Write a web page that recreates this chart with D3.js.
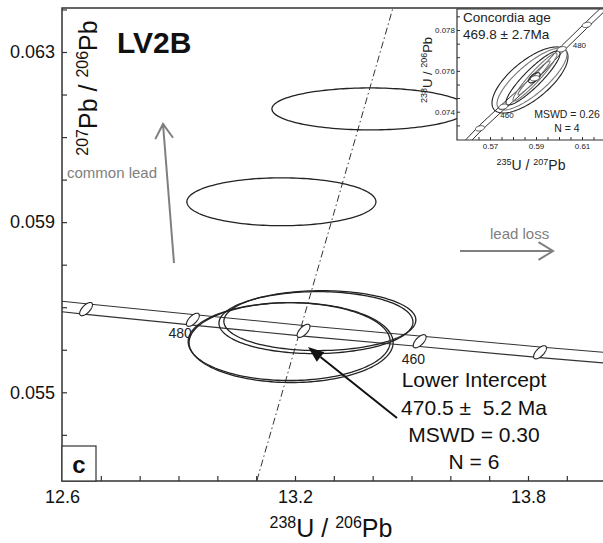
<!DOCTYPE html>
<html><head><meta charset="utf-8">
<script src="https://cdn.jsdelivr.net/npm/d3@7"></script>
<style>body{margin:0;background:#fff}svg{display:block}text{font-family:"Liberation Sans",Arial,sans-serif}</style>
</head><body><svg id="c" width="603" height="543"></svg>
<script>
// ---------- main plot data (Tera-Wasserburg) ----------
const xTickVals = [12.6,12.7,12.8,12.9,13.0,13.1,13.2,13.3,13.4,13.5,13.6,13.7,13.8,13.9];
const xTickLabels = [12.6,13.2,13.8];
const yTickVals = [0.054,0.055,0.056,0.057,0.058,0.059,0.060,0.061,0.062,0.063,0.064];
const yTickLabels = [0.055,0.059,0.063];
// analyses: 238U/206Pb, 207Pb/206Pb, 2-sigma half widths, correlation
const ellX   = [13.393, 13.165, 13.254, 13.264, 13.185, 13.190];
const ellY   = [0.061662, 0.059479, 0.056638, 0.056685, 0.056192, 0.056169];
const ellSX  = [0.2524, 0.2434, 0.2498, 0.2472, 0.2601, 0.2627];
const ellSY  = [0.000493, 0.000563, 0.000728, 0.000704, 0.000915, 0.000939];
const ellRho = [0, 0, 0.02, 0.02, 0, 0];
// concordia (Ma) with marker positions
const concAge = [500, 490, 480, 470, 460, 450, 440];
const concX   = [12.399, 12.662, 12.937, 13.222, 13.521, 13.831, 14.157];
const concY   = [0.057215, 0.056956, 0.056705, 0.056445, 0.056200, 0.055941, 0.055690];
const concBand = 0.000125;
const concLabels = [480, 460];
// discordia (dash-dot) line end points
const discX = [13.102, 13.452];
const discY = [0.05293, 0.06403];

// ---------- inset data (Wetherill) ----------
const inXTickVals = [0.565,0.57,0.575,0.58,0.585,0.59,0.595,0.60,0.605,0.61,0.615];
const inXTickLabels = [0.57,0.59,0.61];
const inYTickVals = [0.07333,0.074,0.07467,0.07533,0.076,0.07667,0.07733,0.078,0.07867];
const inYTickLabels = [0.074,0.076,0.078];
const inConcX = [0.5565, 0.56565, 0.57578, 0.58957, 0.60117, 0.61204, 0.625];
const inConcY = [0.072108, 0.073186, 0.074245, 0.075637, 0.077059, 0.07825, 0.079647];
const inMarkX = [0.56565, 0.57578, 0.58957, 0.60117, 0.61204];
const inMarkY = [0.073186, 0.074245, 0.075637, 0.077059, 0.07825];
const inBand = 0.00017;
const inEllX   = [0.58739, 0.58826, 0.58870, 0.58957, 0.58913, 0.58930];
const inEllY   = [0.075554, 0.075603, 0.075652, 0.075701, 0.075652, 0.075660];
const inEllSX  = [0.01652, 0.01522, 0.01174, 0.00957, 0.00696, 0.0025];
const inEllSY  = [0.001618, 0.00152, 0.001324, 0.001176, 0.000833, 0.00025];
const inEllRho = [0.70, 0.80, 0.90, 0.95, 0.97, 0.6];
const inEllGrey = [false, true, false, true, true, false];

const svg = d3.select("#c");
const L = 62, T = 8, B = 481, R = 603;
const x = d3.scaleLinear().domain([12.6, 13.8]).range([62, 528]);
const y = d3.scaleLinear().domain([0.055, 0.063]).range([392.3, 52]);

function ellPath(xs, ys, cx, cy, sx, sy, rho) {
  const n = 160, pts = [];
  for (let i = 0; i <= n; i++) {
    const t = 2 * Math.PI * i / n;
    pts.push([xs(cx + sx * Math.cos(t)), ys(cy + sy * (rho * Math.cos(t) + Math.sqrt(1 - rho * rho) * Math.sin(t)))]);
  }
  return d3.line()(pts);
}

svg.append("defs").append("clipPath").attr("id","mclip").append("rect")
  .attr("x", L).attr("y", T).attr("width", R - L + 10).attr("height", B - T);
const g = svg.append("g").attr("clip-path","url(#mclip)");

// concordia band
const line = d3.line();
[-1, 1].forEach(s => {
  g.append("path").attr("d", line(concX.map((v,i)=>[x(v), y(concY[i] + s*concBand)])))
   .attr("fill","none").attr("stroke","#333").attr("stroke-width",1.1);
});
// discordia
g.append("line").attr("x1", x(discX[0])).attr("y1", y(discY[0])).attr("x2", x(discX[1])).attr("y2", y(discY[1]))
  .attr("stroke","#333").attr("stroke-width",1).attr("stroke-dasharray","7,3,1.5,3");
// data ellipses
ellX.forEach((v,i) => {
  g.append("path").attr("d", ellPath(x, y, v, ellY[i], ellSX[i], ellSY[i], ellRho[i]))
   .attr("fill","none").attr("stroke","#222").attr("stroke-width",1.3);
});
// concordia markers
concX.forEach((v,i) => {
  g.append("path").attr("d", ellPath(x, y, v, concY[i], 0.0165, 0.000155, 0.65))
   .attr("fill","#fff").attr("stroke","#222").attr("stroke-width",1.1);
});
concAge.forEach((a,i) => {
  if (!concLabels.includes(a)) return;
  const px = x(concX[i]), py = y(concY[i]);
  g.append("text").attr("x", a === 480 ? px - 1 : px - 18).attr("y", a === 480 ? py + 18 : py + 23)
   .attr("text-anchor", a === 480 ? "end" : "start").attr("font-size", 14).attr("fill","#222").text(a);
});

// axes
const xAxis = d3.axisBottom(x).tickValues(xTickVals).tickSize(-5).tickSizeOuter(0).tickPadding(9)
  .tickFormat(d => xTickLabels.includes(d) ? d3.format(".1f")(d) : "");
const gx = svg.append("g").attr("transform", `translate(0,${B})`).call(xAxis);
gx.select(".domain").remove();
gx.selectAll("line").attr("stroke","#333").attr("stroke-width",1.2);
gx.selectAll("text").attr("font-size",18).attr("fill","#111").style("font-family","Liberation Sans, Arial, sans-serif");
const yAxis = d3.axisLeft(y).tickValues(yTickVals.filter(v => y(v) > T && y(v) < B)).tickSize(-5).tickSizeOuter(0).tickPadding(7)
  .tickFormat(d => yTickLabels.includes(d) ? d3.format(".3f")(d) : "");
const gy = svg.append("g").attr("transform", `translate(${L},0)`).call(yAxis);
gy.select(".domain").remove();
gy.selectAll("line").attr("stroke","#333").attr("stroke-width",1.2);
gy.selectAll("text").attr("font-size",18).attr("fill","#111").style("font-family","Liberation Sans, Arial, sans-serif");

// frame
svg.append("path").attr("d", `M${R+5},${T}H${L}V${B}H${R+5}`).attr("fill","none").attr("stroke","#333").attr("stroke-width",1.5);

// axis titles
const xt = svg.append("text").attr("x", 331).attr("y", 537).attr("text-anchor","middle").attr("font-size",25).attr("fill","#111");
xt.append("tspan").attr("font-size",16).attr("dy",-9).text("238");
xt.append("tspan").attr("dy",9).text("U / ");
xt.append("tspan").attr("font-size",16).attr("dy",-9).text("206");
xt.append("tspan").attr("dy",9).text("Pb");
const yt = svg.append("text").attr("transform","translate(97,88) rotate(-90)").attr("text-anchor","middle").attr("font-size",25).attr("fill","#111");
yt.append("tspan").attr("font-size",16).attr("dy",-9).text("207");
yt.append("tspan").attr("dy",9).text("Pb / ");
yt.append("tspan").attr("font-size",16).attr("dy",-9).text("206");
yt.append("tspan").attr("dy",9).text("Pb");

svg.append("text").attr("x",117).attr("y",53).attr("font-size",30).attr("font-weight","bold").attr("fill","#111").text("LV2B");
svg.append("rect").attr("x",L).attr("y",446).attr("width",34).attr("height",B-446).attr("fill","#fff").attr("stroke","#333").attr("stroke-width",1.2);
svg.append("text").attr("x",79).attr("y",473).attr("text-anchor","middle").attr("font-size",24).attr("font-weight","bold").attr("fill","#111").text("c");

// grey arrows
function openArrow(x1,y1,x2,y2,col){
  const a = Math.atan2(y2-y1, x2-x1), len = 17, sp = 0.55;
  const p = `M${x1},${y1}L${x2},${y2}M${x2-len*Math.cos(a-sp)},${y2-len*Math.sin(a-sp)}L${x2},${y2}L${x2-len*Math.cos(a+sp)},${y2-len*Math.sin(a+sp)}`;
  svg.append("path").attr("d",p).attr("fill","none").attr("stroke",col).attr("stroke-width",2);
}
openArrow(174,263,163,124,"#7f7f7f");
openArrow(460,251,553,251,"#7f7f7f");
svg.append("text").attr("x",67).attr("y",178).attr("font-size",15).attr("fill","#808080").text("common lead");
svg.append("text").attr("x",490).attr("y",239).attr("font-size",15).attr("fill","#808080").text("lead loss");

// black arrow to lower intercept
(function(){
  const x1=397,y1=418,x2=308,y2=347;
  const a = Math.atan2(y2-y1,x2-x1), len=16, w=6;
  const bx = x2 - len*Math.cos(a), by = y2 - len*Math.sin(a);
  svg.append("line").attr("x1",x1).attr("y1",y1).attr("x2",bx).attr("y2",by).attr("stroke","#111").attr("stroke-width",2);
  svg.append("path").attr("d",`M${x2},${y2}L${bx + w*Math.sin(a)},${by - w*Math.cos(a)}L${bx - w*Math.sin(a)},${by + w*Math.cos(a)}Z`).attr("fill","#111");
})();
const res = ["Lower Intercept", "470.5 \u00b1  5.2 Ma", "MSWD = 0.30", "N = 6"];
const resY = [387, 415, 442, 469];
res.forEach((t,i) => svg.append("text").attr("x",474).attr("y",resY[i]).attr("text-anchor","middle")
  .attr("font-size",21).attr("fill","#111").style("white-space","pre").text(t));

// ---------- inset ----------
const IL = 457, IT = 9, IB = 140;
const xi = d3.scaleLinear().domain([0.57, 0.61]).range([490, 582]);
const yi = d3.scaleLinear().domain([0.074, 0.078]).range([111.7, 30]);
svg.append("rect").attr("x",IL).attr("y",IT).attr("width",R-IL+10).attr("height",IB-IT).attr("fill","#fff");
svg.select("defs").append("clipPath").attr("id","iclip").append("rect").attr("x",IL).attr("y",IT).attr("width",R-IL+10).attr("height",IB-IT);
const gi = svg.append("g").attr("clip-path","url(#iclip)");
[-1,1].forEach(s => gi.append("path").attr("d", line(inConcX.map((v,i)=>[xi(v), yi(inConcY[i] + s*inBand)])))
  .attr("fill","none").attr("stroke","#333").attr("stroke-width",1));
inEllX.forEach((v,i) => gi.append("path").attr("d", ellPath(xi, yi, v, inEllY[i], inEllSX[i], inEllSY[i], inEllRho[i]))
  .attr("fill","none").attr("stroke", inEllGrey[i] ? "#777" : "#222").attr("stroke-width",1.1));
inMarkX.forEach((v,i) => gi.append("path").attr("d", ellPath(xi, yi, v, inMarkY[i], 0.002, 0.00013, 0.3))
  .attr("fill","#fff").attr("stroke","#333").attr("stroke-width",0.9));
gi.append("text").attr("x", xi(inMarkX[3]) + 11).attr("y", yi(inMarkY[3]) - 1).attr("font-size",8).attr("fill","#222").text("480");
gi.append("text").attr("x", xi(inMarkX[1]) - 3).attr("y", yi(inMarkY[1]) + 11).attr("font-size",8).attr("fill","#222").text("460");

const xiAxis = d3.axisBottom(xi).tickValues(inXTickVals.filter(v => xi(v) > IL)).tickSize(-3).tickSizeOuter(0).tickPadding(3)
  .tickFormat(d => inXTickLabels.includes(d) ? d3.format(".2f")(d) : "");
const gxi = svg.append("g").attr("transform",`translate(0,${IB})`).call(xiAxis);
gxi.select(".domain").remove();
gxi.selectAll("line").attr("stroke","#333");
gxi.selectAll("text").attr("font-size",8).attr("fill","#222").style("font-family","Liberation Sans, Arial, sans-serif");
const yiAxis = d3.axisLeft(yi).tickValues(inYTickVals.filter(v => yi(v) > IT && yi(v) < IB)).tickSize(-3).tickSizeOuter(0).tickPadding(2)
  .tickFormat(d => inYTickLabels.includes(d) ? d3.format(".3f")(d) : "");
const gyi = svg.append("g").attr("transform",`translate(${IL},0)`).call(yiAxis);
gyi.select(".domain").remove();
gyi.selectAll("line").attr("stroke","#333");
gyi.selectAll("text").attr("font-size",8).attr("fill","#222").style("font-family","Liberation Sans, Arial, sans-serif");
svg.append("path").attr("d",`M${R+5},${IT}H${IL}V${IB}H${R+5}`).attr("fill","none").attr("stroke","#333").attr("stroke-width",1.2);

svg.append("text").attr("x",463).attr("y",22).attr("font-size",13.5).attr("fill","#222").text("Concordia age");
svg.append("text").attr("x",463).attr("y",39).attr("font-size",13.5).attr("fill","#222").text("469.8 \u00b1 2.7Ma");
svg.append("text").attr("x",567).attr("y",118).attr("text-anchor","middle").attr("font-size",10.5).attr("fill","#222").text("MSWD = 0.26");
svg.append("text").attr("x",567).attr("y",132).attr("text-anchor","middle").attr("font-size",10.5).attr("fill","#222").text("N = 4");

const ixt = svg.append("text").attr("x",531).attr("y",170).attr("text-anchor","middle").attr("font-size",14).attr("fill","#222");
ixt.append("tspan").attr("font-size",9).attr("dy",-5).text("235");
ixt.append("tspan").attr("dy",5).text("U / ");
ixt.append("tspan").attr("font-size",9).attr("dy",-5).text("207");
ixt.append("tspan").attr("dy",5).text("Pb");
const iyt = svg.append("text").attr("transform","translate(432,70) rotate(-90)").attr("text-anchor","middle").attr("font-size",13).attr("fill","#222");
iyt.append("tspan").attr("font-size",9).attr("dy",-5).text("238");
iyt.append("tspan").attr("dy",5).text("U / ");
iyt.append("tspan").attr("font-size",9).attr("dy",-5).text("206");
iyt.append("tspan").attr("dy",5).text("Pb");
</script></body></html>
